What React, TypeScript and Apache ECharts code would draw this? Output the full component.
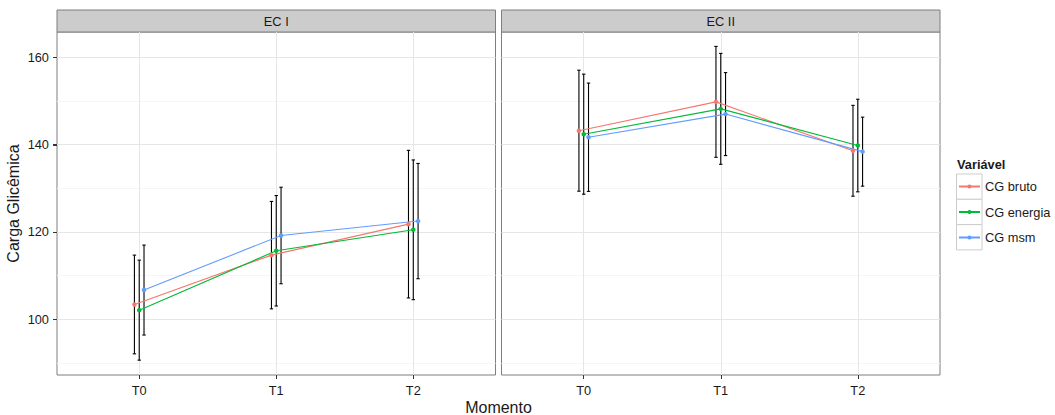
import React, { useEffect, useRef } from 'react';
import * as echarts from 'echarts';

// ---------- data ----------
const categories = ['T0', 'T1', 'T2'];
const panels = ['EC I', 'EC II'];
const variables = ['CG bruto', 'CG energia', 'CG msm'];
const colors = ['#F8766D', '#00BA38', '#619CFF'];
const yTicks = [100, 120, 140, 160];
const yMinorTicks = [90, 110, 130, 150];

// EC I means / standard deviations (T0, T1, T2)
const ec1Bruto = [103.4, 114.7, 121.8];
const ec1Energia = [102.1, 115.7, 120.5];
const ec1Msm = [106.7, 119.2, 122.5];
const ec1BrutoSd = [11.3, 12.3, 16.9];
const ec1EnergiaSd = [11.45, 12.65, 16.0];
const ec1MsmSd = [10.3, 11.05, 13.2];

// EC II means / standard deviations (T0, T1, T2)
const ec2Bruto = [143.2, 149.8, 138.6];
const ec2Energia = [142.4, 148.2, 139.8];
const ec2Msm = [141.7, 147.0, 138.4];
const ec2BrutoSd = [13.85, 12.7, 10.4];
const ec2EnergiaSd = [13.75, 12.7, 10.6];
const ec2MsmSd = [12.4, 9.5, 7.9];

const means = [
  [ec1Bruto, ec1Energia, ec1Msm],
  [ec2Bruto, ec2Energia, ec2Msm],
];
const sds = [
  [ec1BrutoSd, ec1EnergiaSd, ec1MsmSd],
  [ec2BrutoSd, ec2EnergiaSd, ec2MsmSd],
];

// ---------- layout / style ----------
const FONT = '"Liberation Sans", Arial, sans-serif';
const TEXT = '#1a1a1a';
const GRID_TOP = 32;
const GRID_H = 343;
const PANEL_W = 438.5;
const PANEL_LEFTS = [57, 501.5];
const STRIP_TOP = 10;
const STRIP_H = 22;
const Y_MIN = 87.25;
const Y_MAX = 165.8;
const X_MIN = -0.6;
const X_MAX = 2.6;
const DODGE = 0.035;
const CAP = 1.7;
const TICK_LEN = 4;

export default function App() {
  const ref = useRef<HTMLDivElement>(null);

  useEffect(() => {
    if (!ref.current) return;
    const chart = echarts.init(ref.current, null, { renderer: 'svg' });

    const catIdx = categories.map((_, k) => k);

    const grid = PANEL_LEFTS.map((left) => ({
      left,
      top: GRID_TOP,
      width: PANEL_W,
      height: GRID_H,
      show: true,
      backgroundColor: '#ffffff',
      borderColor: '#7f7f7f',
      borderWidth: 1,
      containLabel: false,
    }));

    const xAxis = panels.map((_, i) => ({
      type: 'value',
      gridIndex: i,
      min: X_MIN,
      max: X_MAX,
      position: 'bottom',
      axisLine: { show: false, onZero: false },
      axisTick: {
        show: true,
        customValues: catIdx,
        length: TICK_LEN,
        lineStyle: { color: '#333333', width: 1 },
      },
      axisLabel: {
        show: true,
        customValues: catIdx,
        formatter: (v: number) => categories[Math.round(v)] ?? '',
        margin: 9,
        color: TEXT,
        fontSize: 12.8,
        fontFamily: FONT,
      },
      splitLine: { show: true, lineStyle: { color: '#e6e6e6', width: 1 } },
    }));

    const yMajor = panels.map((_, i) => ({
      type: 'value',
      gridIndex: i,
      min: Y_MIN,
      max: Y_MAX,
      position: 'left',
      axisLine: { show: false, onZero: false },
      axisTick: {
        show: i === 0,
        inside: false,
        customValues: yTicks,
        length: TICK_LEN,
        lineStyle: { color: '#333333', width: 1 },
      },
      axisLabel: {
        show: i === 0,
        customValues: yTicks,
        margin: 8,
        color: TEXT,
        fontSize: 12.8,
        fontFamily: FONT,
      },
      splitLine: { show: true, lineStyle: { color: '#e6e6e6', width: 1 } },
      name: i === 0 ? 'Carga Glicêmica' : '',
      nameLocation: 'middle',
      nameRotate: 90,
      nameGap: 36,
      nameTextStyle: { fontSize: 16, color: TEXT, fontFamily: FONT },
    }));

    const yMinor = panels.map((_, i) => ({
      type: 'value',
      gridIndex: i,
      min: Y_MIN,
      max: Y_MAX,
      position: 'right',
      axisLine: { show: false, onZero: false },
      axisTick: { show: false, customValues: yMinorTicks },
      axisLabel: { show: false, customValues: yMinorTicks },
      splitLine: { show: true, lineStyle: { color: '#f5f5f5', width: 1 } },
    }));

    const series: any[] = [];
    panels.forEach((_, p) => {
      variables.forEach((v, j) => {
        const off = (j - 1) * DODGE;
        series.push({
          type: 'custom',
          name: `${v} (DP ${panels[p]})`,
          xAxisIndex: p,
          yAxisIndex: p,
          z: 2,
          clip: false,
          data: catIdx.map((k) => [k + off, means[p][j][k] - sds[p][j][k], means[p][j][k] + sds[p][j][k]]),
          encode: { x: 0, y: [1, 2] },
          renderItem: (params: any, api: any) => {
            const x = api.value(0);
            const lo = api.coord([x, api.value(1)]);
            const hi = api.coord([x, api.value(2)]);
            const style = { stroke: '#000000', lineWidth: 1.1 };
            return {
              type: 'group',
              children: [
                { type: 'line', shape: { x1: lo[0], y1: lo[1], x2: hi[0], y2: hi[1] }, style },
                { type: 'line', shape: { x1: lo[0] - CAP, y1: lo[1], x2: lo[0] + CAP, y2: lo[1] }, style },
                { type: 'line', shape: { x1: hi[0] - CAP, y1: hi[1], x2: hi[0] + CAP, y2: hi[1] }, style },
              ],
            };
          },
        });
      });
    });
    panels.forEach((_, p) => {
      variables.forEach((v, j) => {
        const off = (j - 1) * DODGE;
        series.push({
          type: 'line',
          name: v,
          xAxisIndex: p,
          yAxisIndex: p,
          z: 3,
          color: colors[j],
          symbol: 'circle',
          symbolSize: 4.5,
          showSymbol: true,
          lineStyle: { width: 1.1, color: colors[j] },
          itemStyle: { color: colors[j] },
          data: catIdx.map((k) => [k + off, means[p][j][k]]),
        });
      });
    });

    const graphic: any[] = [];
    PANEL_LEFTS.forEach((left, i) => {
      graphic.push({
        type: 'rect',
        id: `strip${i}`,
        shape: { x: left, y: STRIP_TOP, width: PANEL_W, height: STRIP_H },
        style: { fill: '#cccccc', stroke: '#7f7f7f', lineWidth: 1 },
      });
      graphic.push({
        type: 'text',
        id: `stripText${i}`,
        x: left + PANEL_W / 2,
        y: STRIP_TOP + STRIP_H / 2,
        style: {
          text: panels[i],
          fill: TEXT,
          font: `12.8px ${FONT}`,
          align: 'center',
          verticalAlign: 'middle',
        },
      });
    });
    graphic.push({
      type: 'text',
      id: 'xTitle',
      x: (PANEL_LEFTS[0] + PANEL_LEFTS[1] + PANEL_W) / 2,
      y: 407,
      style: {
        text: 'Momento',
        fill: TEXT,
        font: `16px ${FONT}`,
        align: 'center',
        verticalAlign: 'middle',
      },
    });
    graphic.push({
      type: 'text',
      id: 'legendTitle',
      x: 957,
      y: 164,
      style: {
        text: 'Variável',
        fill: TEXT,
        font: `bold 12.8px ${FONT}`,
        align: 'left',
        verticalAlign: 'middle',
      },
    });
    variables.forEach((_, i) => {
      graphic.push({
        type: 'rect',
        id: `key${i}`,
        z: -1,
        shape: { x: 956.5, y: 174 + i * 25.3, width: 25.5, height: 25.3 },
        style: { fill: '#ffffff', stroke: '#cccccc', lineWidth: 1 },
      });
    });

    chart.setOption({
      animation: false,
      textStyle: { fontFamily: FONT },
      grid,
      xAxis,
      yAxis: [...yMajor, ...yMinor],
      series,
      graphic,
      legend: {
        show: true,
        orient: 'vertical',
        left: 958,
        top: 180,
        itemWidth: 21,
        itemHeight: 5,
        itemGap: 12.5,
        padding: 0,
        data: variables,
        selectedMode: false,
        textStyle: { fontSize: 12.8, color: TEXT, fontFamily: FONT },
      },
    });

    // y-axis tick marks of the first panel, placed through the axis scale
    const tickMarks = yTicks.map((v, k) => {
      const pt = chart.convertToPixel({ xAxisIndex: 0, yAxisIndex: 0 } as any, [X_MIN, v]) as number[];
      const y = Math.round(pt[1]) + 0.5;
      return {
        type: 'line',
        id: `ytick${k}`,
        shape: { x1: pt[0] - TICK_LEN, y1: y, x2: pt[0], y2: y },
        style: { stroke: '#333333', lineWidth: 1 },
        z: 10,
      };
    });
    chart.setOption({ graphic: [...graphic, ...tickMarks] });

    return () => chart.dispose();
  }, []);

  return (
    <div
      ref={ref}
      style={{ position: 'absolute', left: 0, top: 0, width: 1055, height: 415 }}
    />
  );
}
